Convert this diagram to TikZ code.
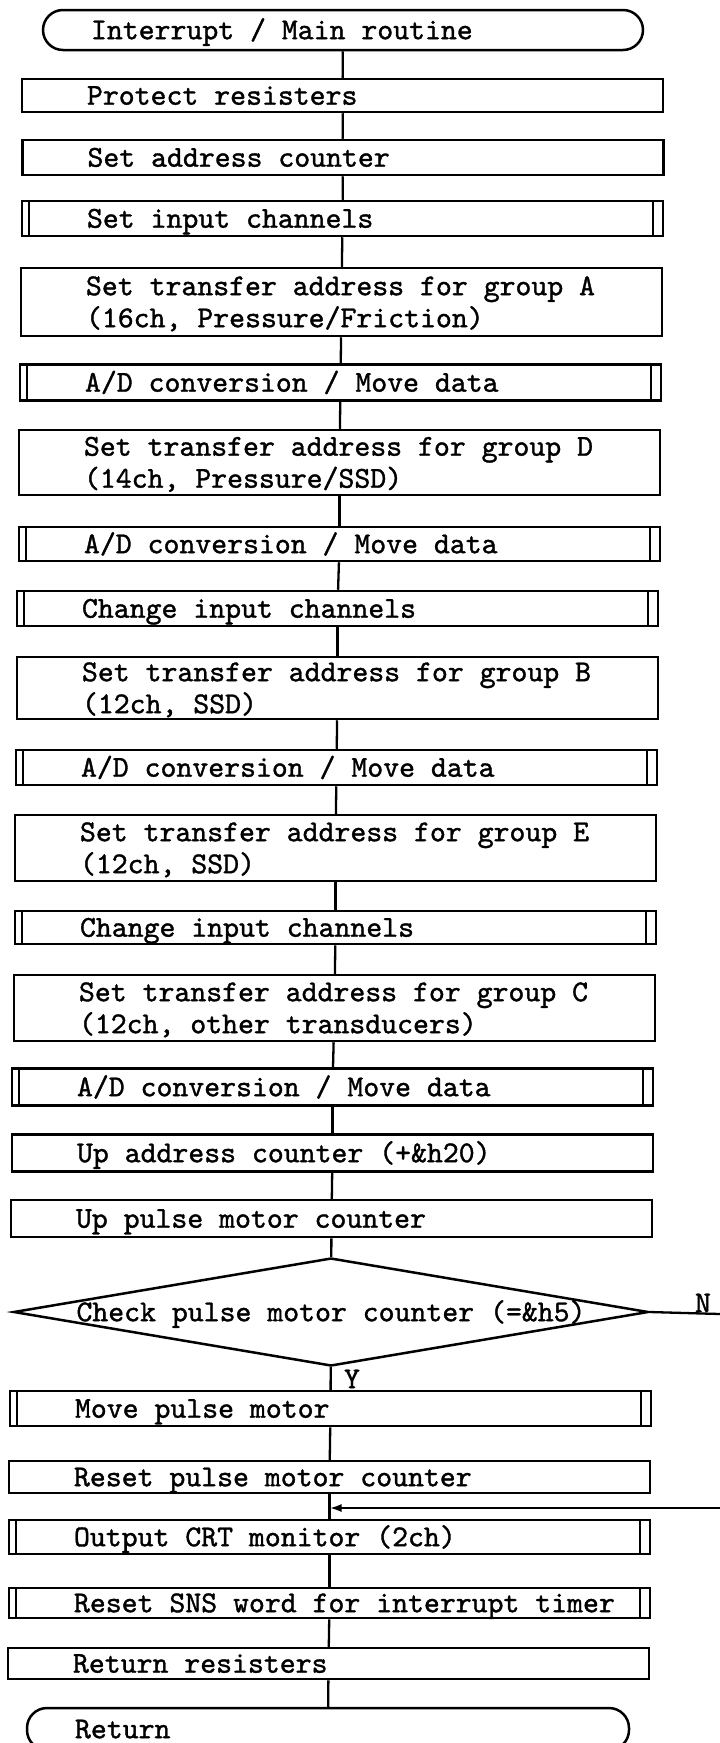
\documentclass[tikz,border=0pt]{standalone}
\usetikzlibrary{shapes.geometric,arrows.meta}
\font\flowtt="[lmmono10-regular]:embolden=1.2" at 30.3pt
\newcommand\flowfont{\flowtt\baselineskip=32pt}
\newcommand\flind{\spaceskip=15.9075pt\relax\hspace*{65pt}}
\newcommand\trind{\spaceskip=15.9075pt\relax\hspace*{48pt}}
\begin{document}
\begin{tikzpicture}[x=1pt,y=-1pt,
  proc/.style={draw, line width=2.5pt, rectangle, inner sep=0pt, text width=641pt,
    align=left, font=\flowfont, text height=18.4pt, text depth=0pt},
  proctwo/.style={proc, text height=18.4pt, text depth=32pt},
  subr/.style={proc, path picture={
    \draw[line width=2.2pt]
      ([xshift=7pt]path picture bounding box.north west) -- ([xshift=7pt]path picture bounding box.south west)
      ([xshift=-10pt]path picture bounding box.north east) -- ([xshift=-10pt]path picture bounding box.south east);}},
  term/.style={draw, line width=2.5pt, rectangle, rounded corners=20pt, inner sep=0pt,
    text width=600pt, minimum height=40pt, align=left, font=\flowfont,
    text height=18.4pt, text depth=0pt},
  decision/.style={draw, line width=2.5pt, diamond, inner sep=0pt, minimum width=635pt,
    minimum height=108pt, font=\flowfont, text height=18.4pt, text depth=0pt},
  lab/.style={inner sep=0pt, font=\flowfont, text height=18.4pt, text depth=0pt},
  conn/.style={line width=2.3pt}
]
\fill[white] (0,0) rectangle (720,1743);
\useasboundingbox (0,0) rectangle (720,1743);

\node[term] (start) at (343,30) {\trind Interrupt / Main routine};
\node[proc, minimum height=33pt] (prot) at (342.5,95.5) {\flind Protect resisters};
\node[proc, minimum height=35pt] (setaddr) at (343,157.5) {\flind Set address counter};
\node[subr, minimum height=35pt] (setin) at (342.5,218.5) {\flind Set input channels};
\node[proctwo, minimum height=68pt] (trA) at (341.5,302) {\flind Set transfer address for group A\\\flind (16ch, Pressure/Friction)};
\node[subr, minimum height=36pt] (adA) at (340.5,382.5) {\flind A/D conversion / Move data};
\node[proctwo, minimum height=65pt] (trD) at (339.5,462.5) {\flind Set transfer address for group D\\\flind (14ch, Pressure/SSD)};
\node[subr, minimum height=34pt] (adD) at (339.5,544) {\flind A/D conversion / Move data};
\node[subr, minimum height=35pt] (chgA) at (337.5,608.5) {\flind Change input channels};
\node[proctwo, minimum height=62pt] (trB) at (337.5,688) {\flind Set transfer address for group B\\\flind (12ch, SSD)};
\node[subr, minimum height=35pt] (adB) at (336.5,767.5) {\flind A/D conversion / Move data};
\node[proctwo, minimum height=66pt] (trE) at (335.5,848) {\flind Set transfer address for group E\\\flind (12ch, SSD)};
\node[subr, minimum height=33pt] (chgB) at (335.5,927.5) {\flind Change input channels};
\node[proctwo, minimum height=66pt] (trC) at (334.5,1008) {\flind Set transfer address for group C\\\flind (12ch, other transducers)};
\node[subr, minimum height=37pt] (adC) at (332.5,1087) {\flind A/D conversion / Move data};
\node[proc, minimum height=37pt] (upaddr) at (332.5,1153) {\flind Up address counter (+\&h20)};
\node[proc, minimum height=37pt] (uppm) at (331.5,1218.5) {\flind Up pulse motor counter};
\node[decision] (chk) at (331,1312) {\makebox[0pt]{Check pulse motor counter (=\&h5)}};
\node[subr, minimum height=35pt] (mvpm) at (330.5,1408.5) {\flind Move pulse motor};
\node[proc, minimum height=32pt] (rstpm) at (329.5,1477) {\flind Reset pulse motor counter};
\node[subr, minimum height=34pt] (crt) at (329.5,1537) {\flind Output CRT monitor (2ch)};
\node[subr, minimum height=30pt] (sns) at (329.5,1603) {\flind Reset SNS word for interrupt timer};
\node[proc, minimum height=31pt] (retreg) at (328.5,1663.5) {\flind Return resisters};
\node[term, text width=602pt, minimum height=42pt] (ret) at (328,1729) {\trind Return};

\node[lab] (ylab) at (352,1379) {Y};
\node[lab] (nlab) at (703,1303) {N};

\coordinate (nout) at (720,1314);
\coordinate (nin) at (720,1508);

\draw[conn] (start) -- (prot);
\draw[conn] (prot) -- (setaddr);
\draw[conn] (setaddr) -- (setin);
\draw[conn] (setin) -- (trA);
\draw[conn] (trA) -- (adA);
\draw[conn] (adA) -- (trD);
\draw[conn] (trD) -- (adD);
\draw[conn] (adD) -- (chgA);
\draw[conn] (chgA) -- (trB);
\draw[conn] (trB) -- (adB);
\draw[conn] (adB) -- (trE);
\draw[conn] (trE) -- (chgB);
\draw[conn] (chgB) -- (trC);
\draw[conn] (trC) -- (adC);
\draw[conn] (adC) -- (upaddr);
\draw[conn] (upaddr) -- (uppm);
\draw[conn] (uppm) -- (chk);
\draw[conn] (chk) -- (mvpm);
\draw[conn] (mvpm) -- (rstpm);
\draw[conn] (rstpm) -- (crt);
\draw[conn] (crt) -- (sns);
\draw[conn] (sns) -- (retreg);
\draw[conn] (retreg) -- (ret);
\draw[conn] (chk.east) -- (nout);
\draw[conn, -{Latex[length=12pt,width=8pt]}] (nin) -- (nin -| rstpm.south);
\end{tikzpicture}
\end{document}
